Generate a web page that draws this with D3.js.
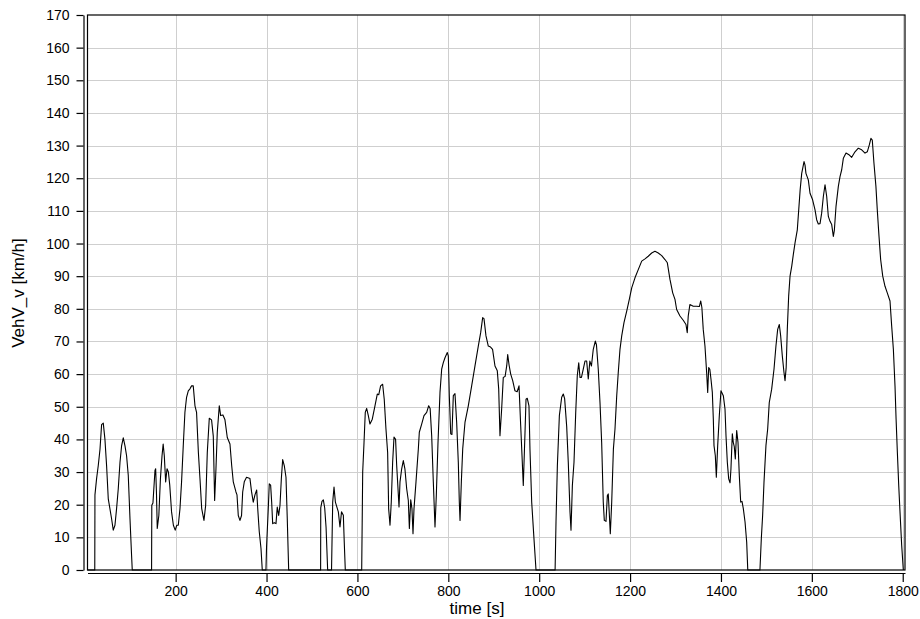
<!DOCTYPE html>
<html>
<head>
<meta charset="utf-8">
<script src="https://cdn.jsdelivr.net/npm/d3@7/dist/d3.min.js"></script>
<style>
  body { margin: 0; background: #fff; }
  svg { display: block; }
  text { font-family: "Liberation Sans", Arial, sans-serif; fill: #000; }
</style>
</head>
<body>
<svg id="chart" width="920" height="619"></svg>
<script>
// Vehicle speed trace: time [s] and speed [km/h]
const timeS = [
  6, 22, 22.4, 26, 29.7, 33.5, 37, 40.7, 44.4, 48, 51.7, 59, 62.7, 66.4, 70, 73.7, 77.5, 81, 84.7, 88.5, 92, 95.7, 99.5, 103, 104.5,
  147, 147.5, 150, 154.5, 156, 157.7, 159.5, 163, 166.5, 170, 172.5, 175, 178, 181, 184, 187, 191, 195, 199, 202.5,
  205.8, 209.5, 213, 216.7, 220.4, 224, 227.8, 231.5, 235, 238.7, 242.5, 246, 250, 253.5, 257.3, 262.3, 266, 269.6, 274, 279,
  282.8, 285.8, 288.7, 291.6, 296, 299, 304, 308.5, 313.6, 319.5, 323.3, 326.8, 332.7, 335, 337.8, 341.5, 345, 347.5, 351, 356,
  363.5, 367, 370.8, 374.5, 378.3, 380.5, 384, 387.8, 390.6,
  398.7, 400, 403.8, 406, 409, 411.3, 413.5, 417, 420.8, 423.6, 426.7, 429.6, 432.6, 435.5, 439, 442.8, 445.6, 448.7,
  519, 519.3, 522, 525, 528, 531, 534.5,
  543, 545.6, 548.5, 551.5, 558, 561.6, 565, 569, 571, 573.3,
  609.4, 611.6, 614.5, 617.3, 620.3, 624, 627.6, 632.7, 638.6, 643.7, 647, 651, 655.5, 659, 662.8, 666.5, 668.7, 671.7, 674.5,
  677.5, 680.5, 684, 686.4, 689.3, 691.5, 693.7, 697.4, 701, 704.5, 708.4, 712, 714.3, 717.3, 720, 722.3, 724.5, 728.9, 734,
  736.2, 741.4, 746.5, 752.4, 756.8, 760, 763.4, 767, 770.7, 773.6, 777.3, 781.7, 785.4, 789, 792.7, 797.8, 800, 802.2, 805.3,
  808, 811, 814.7, 818.4, 822, 824.2, 825.8, 828.7, 831.7, 836.7, 844, 851.4, 858.7, 866, 871.2, 875.6, 878.5, 882.9, 888, 893,
  897.4, 902.7, 907.8, 910.9, 913.7, 917.4, 921, 925, 928.5, 930.7, 933.7, 937.3, 941.7, 946.7, 951.5, 955.6, 959.3, 962.2, 965,
  968.8, 971, 973.8, 977.5, 979.7, 983.5, 988.5, 993,
  1035, 1037, 1040, 1044.4, 1049.5, 1053, 1056, 1060.5, 1064, 1067.8, 1070, 1073, 1076.6, 1080.4, 1083.8, 1087, 1089.8, 1093,
  1097, 1100.8, 1104.5, 1108, 1111.5, 1115, 1119, 1123.5, 1126, 1130, 1133.8, 1137.5, 1141, 1143.3, 1147, 1150, 1152, 1154,
  1156.5, 1159.6, 1163.3, 1166.8, 1170.6, 1174, 1177.8, 1181.6, 1186.6, 1192.6, 1198.3, 1203.6, 1210.8, 1218, 1225.6, 1232.8,
  1240, 1247.6, 1254.7, 1262, 1269.6, 1276.8, 1282, 1287.8, 1293.8, 1298.8, 1302.5, 1309.8, 1317, 1323, 1325.8, 1328, 1331.6,
  1339, 1346, 1352.4, 1355.5, 1358, 1361, 1364.8, 1368.5, 1370.8, 1373, 1375.5, 1378, 1381, 1383.2, 1384.7, 1387.6, 1389.8,
  1392.8, 1396.4, 1400, 1405.2, 1408.9, 1411.1, 1414, 1417, 1420, 1422, 1425, 1427.1, 1429.3, 1431.6, 1434.6, 1437.5, 1440.4,
  1443.4, 1446.3, 1449.2, 1453, 1456.6, 1459,
  1485.8, 1488.8, 1491.7, 1494.7, 1499, 1502.8, 1506.3, 1511.6, 1516.7, 1521, 1524.8, 1528.4, 1531.4, 1535, 1538.7, 1541,
  1543.5, 1546, 1549, 1552, 1555.7, 1559.2, 1563, 1568, 1574.3, 1577.7, 1582.8, 1585, 1587, 1592.2, 1596, 1601.7, 1607, 1610.6,
  1614.2, 1618, 1621.6, 1625.3, 1629, 1632.7, 1636.3, 1640, 1643.7, 1647.3, 1649.5, 1653.2, 1658.3, 1662, 1665.7, 1669.3,
  1675.2, 1682.6, 1687.7, 1695, 1702.3, 1709.7, 1717, 1722, 1726.5, 1730, 1733, 1736.7, 1741, 1744, 1747.8, 1751.4, 1756,
  1761, 1766, 1772, 1775.7, 1779.4, 1783, 1785.4, 1788.2, 1791.2, 1794, 1797.7, 1801.3
];
const speedKmh = [
  0, 0, 23, 28, 32, 37, 44.5, 45, 40, 32, 21.8, 15.7, 12.2, 13.7, 18.8, 24.9, 33, 38, 40.5, 38, 35, 29, 15.7, 4.5, 0,
  0, 19.8, 20.5, 30.5, 31, 24, 12.7, 16.7, 28, 35, 38.6, 35, 27, 31, 30, 26, 17.8, 13.7, 12.2, 13.7,
  13.7, 18.8, 27, 38, 48.3, 52.9, 54.9, 55.5, 56.4, 56.4, 50.3, 48.3, 36, 28, 18.8, 15.2, 19.8, 36, 46.5, 46,
  41, 21.3, 31, 42.2, 50.3, 47.3, 47.5, 46, 40.6, 38.6, 32, 27, 23.9, 23, 16.7, 15.2, 16.7, 23.9, 27, 28.4,
  28, 24, 20.8, 23, 24.5, 19, 11.7, 6.6, 0,
  0, 7, 18.8, 26.4, 26, 20.8, 14.2, 14.5, 14.2, 19.3, 16.7, 19.8, 28, 33.8, 32, 28.4, 15.7, 0,
  0, 19, 21, 21.5, 19, 13, 0,
  0, 20.8, 25.4, 20.8, 17.8, 13.2, 17.8, 16.8, 8.6, 0,
  0, 30, 39, 48.3, 49.5, 47.3, 44.7, 46.2, 50.3, 53.9, 53.7, 56.4, 56.9, 52.3, 43.2, 36, 18.8, 13.7, 20.8,
  33, 40.7, 40, 32, 24.9, 19.3, 27, 31, 33.5, 31, 24.9, 21.3, 12.7, 21.5, 18.8, 11.1, 18.8, 27, 37,
  42.2, 44.7, 47.3, 48.3, 50.3, 49.5, 41.2, 27, 13.2, 22.8, 39, 54.4, 61.5, 63.5, 65, 66.6, 65.6, 53.4, 41.7,
  41.5, 53.4, 54, 45.2, 33, 20.8, 15.2, 27, 37.1, 45.2, 50.3, 56.4, 62.5, 68.6, 72.7, 77.3, 77, 71.7, 68.6, 68.3,
  67.6, 62.5, 61, 55.4, 41.1, 49.3, 59, 59.3, 62.5, 66, 62.8, 60, 58, 54.9, 54.6, 56.4, 44.2, 35, 25.9,
  42.2, 52.3, 52.6, 50.3, 37, 20.8, 9.6, 0,
  0, 14.7, 32, 47.3, 52.9, 53.9, 52.5, 44, 33, 17.8, 12.2, 25.9, 33, 48.3, 59.5, 63.5, 59, 59,
  61.5, 64, 64, 58.5, 64, 62.5, 67.6, 70.1, 69, 61.5, 51.3, 39, 20.8, 15.2, 14.9, 22.8, 23.3, 18,
  11.1, 20.8, 37.1, 43.2, 53.4, 60.5, 67.6, 71.7, 75.8, 79.3, 82.9, 86.4, 89.5, 92, 94.6, 95.3,
  96.1, 97.1, 97.6, 97.1, 96.3, 95.1, 94.1, 89, 84.9, 82.9, 79.8, 77.8, 76.5, 75.2, 72.7, 77.8, 81.3,
  80.8, 80.8, 80.7, 82.4, 80.4, 73.7, 68.6, 60.5, 54.4, 62, 61.5, 58.5, 54.4, 46.2, 38.1, 35, 28.4,
  38.1, 47.3, 54.9, 53.4, 49.3, 41.1, 33, 27.9, 26.7, 31, 41.7, 39.1, 37.8, 34, 42.7, 39.1, 28.9,
  20.8, 21, 18.8, 14.7, 8.6, 0,
  0, 9.6, 16.7, 26.9, 38.1, 43.2, 51.3, 55.4, 61.5, 68.6, 73.7, 75.2, 71.7, 65.6, 60.5, 58,
  62, 73.7, 83.9, 90, 93, 96.6, 100.2, 104.2, 116.5, 121.5, 125.1, 124, 121.5, 119.5, 115.4, 113.4, 110.3, 107.3,
  106, 106.1, 109.3, 114.4, 118, 114.4, 108.3, 106.8, 105.8, 102.2, 104, 111.4, 117.5, 120.5, 122.6, 126.1,
  127.7, 127.1, 126.4, 128.1, 129.2, 128.7, 127.7, 128.1, 130.2, 132.2, 131.7, 124.6, 117.5, 110.3, 102.2, 95.1, 90,
  86.9, 84.9, 82.4, 74.7, 67.6, 56.4, 46.2, 36, 25.9, 17.8, 7.6, 0
];

const xTicks = [200, 400, 600, 800, 1000, 1200, 1400, 1600, 1800];
const yTicks = [0, 10, 20, 30, 40, 50, 60, 70, 80, 90, 100, 110, 120, 130, 140, 150, 160, 170];
const xTitle = "time [s]";
const yTitle = "VehV_v [km/h]";

const svg = d3.select("#chart");
const plot = { left: 87.5, right: 905, top: 15, bottom: 570 };

const x = d3.scaleLinear().domain([6, 1805]).range([plot.left, plot.right]);
const y = d3.scaleLinear().domain([0, 170]).range([plot.bottom, plot.top]);

// grid
const grid = svg.append("g").attr("stroke", "#cfcfcf").attr("stroke-width", 1);
grid.selectAll("line.v").data(xTicks).join("line")
  .attr("x1", d => Math.round(x(d)) + 0.5).attr("x2", d => Math.round(x(d)) + 0.5)
  .attr("y1", plot.top).attr("y2", plot.bottom);
grid.selectAll("line.h").data(yTicks.filter(d => d > 0 && d < 170)).join("line")
  .attr("x1", plot.left).attr("x2", plot.right)
  .attr("y1", d => Math.round(y(d)) + 0.5).attr("y2", d => Math.round(y(d)) + 0.5);

// speed trace
const pts = timeS.map((t, i) => [t, speedKmh[i]]);
svg.append("path")
  .datum(pts)
  .attr("fill", "none")
  .attr("stroke", "#000")
  .attr("stroke-width", 1.1)
  .attr("stroke-linejoin", "round")
  .attr("d", d3.line().x(d => x(d[0])).y(d => y(d[1])));

// plot frame
svg.append("rect")
  .attr("x", plot.left).attr("y", plot.top)
  .attr("width", plot.right - plot.left).attr("height", plot.bottom - plot.top)
  .attr("fill", "none").attr("stroke", "#000").attr("stroke-width", 1.2);

// y axis, detached to the left of the frame
const yAxis = svg.append("g")
  .attr("transform", "translate(83.5,0)")
  .call(d3.axisLeft(y).tickValues(yTicks).tickFormat(d3.format("d"))
    .tickSize(7).tickSizeOuter(0).tickPadding(7));
// x axis, just below the frame
const xAxis = svg.append("g")
  .attr("transform", "translate(0,573)")
  .call(d3.axisBottom(x).tickValues(xTicks).tickFormat(d3.format("d"))
    .tickSize(9).tickSizeOuter(0).tickPadding(4));

[yAxis, xAxis].forEach(g => {
  g.selectAll("path, line").attr("stroke", "#000").attr("stroke-width", 1.2);
  g.selectAll("text").attr("font-size", 14).attr("font-family", "Liberation Sans, Arial, sans-serif").attr("fill", "#000");
});

// titles
svg.append("text")
  .attr("x", 477).attr("y", 614)
  .attr("text-anchor", "middle").attr("font-size", 17)
  .text(xTitle);
svg.append("text")
  .attr("transform", "translate(24,293) rotate(-90)")
  .attr("text-anchor", "middle").attr("font-size", 17)
  .text(yTitle);
</script>
</body>
</html>
